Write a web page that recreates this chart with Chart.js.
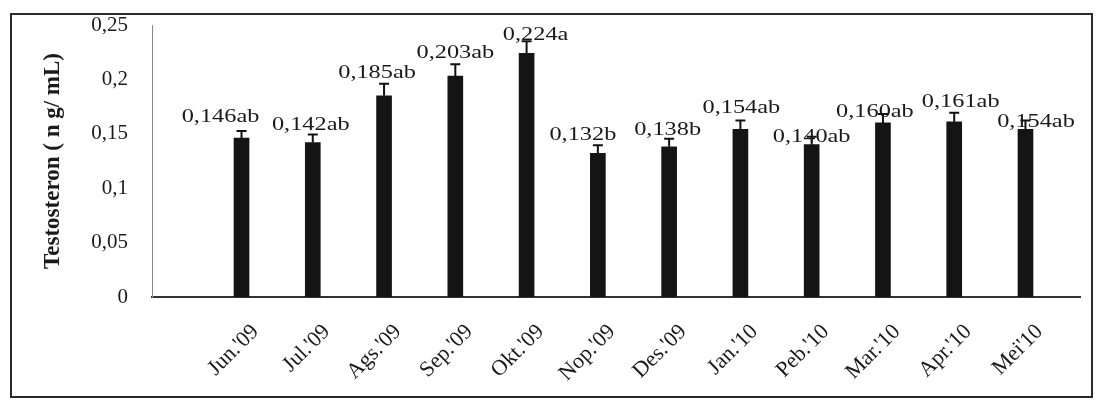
<!DOCTYPE html>
<html>
<head>
<meta charset="utf-8">
<script src="https://cdn.jsdelivr.net/npm/chart.js@4/dist/chart.umd.min.js"></script>
<style>
  html, body { margin: 0; padding: 0; background: #fff; }
  canvas { display: block; }
</style>
</head>
<body>
<canvas id="c" width="1102" height="401"></canvas>
<script>
// Monthly testosterone concentration (ng/mL), June 2009 - May 2010
const months = ["Jun.'09", "Jul.'09", "Ags.'09", "Sep.'09", "Okt.'09", "Nop.'09",
                "Des.'09", "Jan.'10", "Peb.'10", "Mar.'10", "Apr.'10", "Mei'10"];
const means = [0.146, 0.142, 0.185, 0.203, 0.224, 0.132, 0.138, 0.154, 0.140, 0.160, 0.161, 0.154];
const errors = [0.0065, 0.0073, 0.011, 0.011, 0.011, 0.0074, 0.0074, 0.0083, 0.0074, 0.0083, 0.0083, 0.0083];
const letters = ["ab", "ab", "ab", "ab", "a", "b", "b", "ab", "ab", "ab", "ab", "ab"];
const yTicks = [0, 0.05, 0.1, 0.15, 0.2, 0.25];

// hand-placed nudges of each value label, in pixels from the top of its error bar
const labelNudge = [[-21, -14], [-2, -10], [-7, -11], [0, -11], [9, -6], [-15, -10],
                    [-1.5, -9], [1, -12], [0, 0], [-8, -2], [6.5, -11], [10.5, 2]];

const tickFmt = v => String(+v.toFixed(2)).replace('.', ',');
const valueFmt = v => v.toFixed(3).replace('.', ',');
const SERIF = '"Liberation Serif", "DejaVu Serif", serif';
const INK = '#1a1a1a';

const background = {
  id: 'background',
  beforeDraw(chart) {
    const ctx = chart.ctx;
    ctx.save();
    ctx.fillStyle = '#fff';
    ctx.fillRect(0, 0, chart.width, chart.height);
    ctx.restore();
  }
};

const frame = {
  id: 'frame',
  afterDraw(chart) {
    const ctx = chart.ctx;
    ctx.save();
    ctx.strokeStyle = '#2a2a2a';
    ctx.lineWidth = 2;
    ctx.strokeRect(11, 14, 1081, 383);
    ctx.restore();
  }
};

const errorBars = {
  id: 'errorBars',
  afterDatasetsDraw(chart) {
    const ctx = chart.ctx;
    const xs = chart.scales.x, ys = chart.scales.y;
    ctx.save();
    ctx.strokeStyle = '#111';
    ctx.lineWidth = 2;
    means.forEach((m, i) => {
      const x = xs.getPixelForValue(i);
      const yb = ys.getPixelForValue(m);
      const yt = ys.getPixelForValue(m + errors[i]);
      ctx.beginPath();
      ctx.moveTo(x, yb);
      ctx.lineTo(x, yt);
      ctx.moveTo(x - 5, yt);
      ctx.lineTo(x + 5, yt);
      ctx.stroke();
    });
    ctx.restore();
  }
};

// value labels are drawn slightly widened, like the rest of the lettering
const valueLabels = {
  id: 'valueLabels',
  afterDatasetsDraw(chart) {
    const ctx = chart.ctx;
    const xs = chart.scales.x, ys = chart.scales.y;
    ctx.save();
    ctx.font = '19px ' + SERIF;
    ctx.fillStyle = INK;
    ctx.textAlign = 'center';
    ctx.textBaseline = 'middle';
    means.forEach((m, i) => {
      const x = xs.getPixelForValue(i) + labelNudge[i][0];
      const y = ys.getPixelForValue(m + errors[i]) + labelNudge[i][1];
      ctx.save();
      ctx.translate(x, y);
      ctx.scale(1.28, 1);
      ctx.fillText(valueFmt(m) + letters[i], 0, 0);
      ctx.restore();
    });
    ctx.restore();
  }
};

function build() {
  new Chart(document.getElementById('c'), {
    type: 'bar',
    data: {
      datasets: [{
        data: means.map((v, i) => ({ x: i, y: v })),
        backgroundColor: '#141414',
        borderWidth: 0,
        barThickness: 15
      }]
    },
    options: {
      responsive: false,
      animation: false,
      events: [],
      layout: { padding: { left: 12, right: 22, top: 25, bottom: 0 } },
      plugins: { legend: { display: false }, tooltip: { enabled: false } },
      scales: {
        x: {
          type: 'linear',
          offset: false,
          min: -1.256,
          max: 11.765,
          afterFit(s) { s.height = 104; s.paddingLeft = 0; s.paddingRight = 0; },
          grid: { display: false, drawTicks: false },
          border: { display: true, color: '#333', width: 2 },
          ticks: {
            stepSize: 1,
            autoSkip: false,
            minRotation: 45,
            maxRotation: 45,
            padding: 22,
            labelOffset: 14,
            color: INK,
            font: { family: SERIF, size: 22 },
            callback: v => (Number.isInteger(v) && v >= 0 && v < months.length) ? months[v] : ''
          }
        },
        y: {
          min: 0,
          max: 0.25,
          afterFit(s) { s.width = 140; s.paddingTop = 0; s.paddingBottom = 0; },
          afterBuildTicks(s) { s.ticks = yTicks.map(v => ({ value: v })); },
          grid: { display: false, drawTicks: false },
          border: { display: true, color: '#8a8a8a', width: 1 },
          ticks: {
            padding: 24,
            color: INK,
            font: { family: SERIF, size: 21 },
            callback: v => tickFmt(v)
          },
          title: {
            display: true,
            text: 'Testosteron ( n g/ mL)',
            color: INK,
            padding: { top: 27, bottom: 0 },
            font: { family: SERIF, size: 23, weight: 'bold' }
          }
        }
      }
    },
    plugins: [background, frame, errorBars, valueLabels]
  });
}

Promise.all([
  document.fonts.load('19px "Liberation Serif"'),
  document.fonts.load('bold 18px "Liberation Serif"')
]).then(build, build);
</script>
</body>
</html>
